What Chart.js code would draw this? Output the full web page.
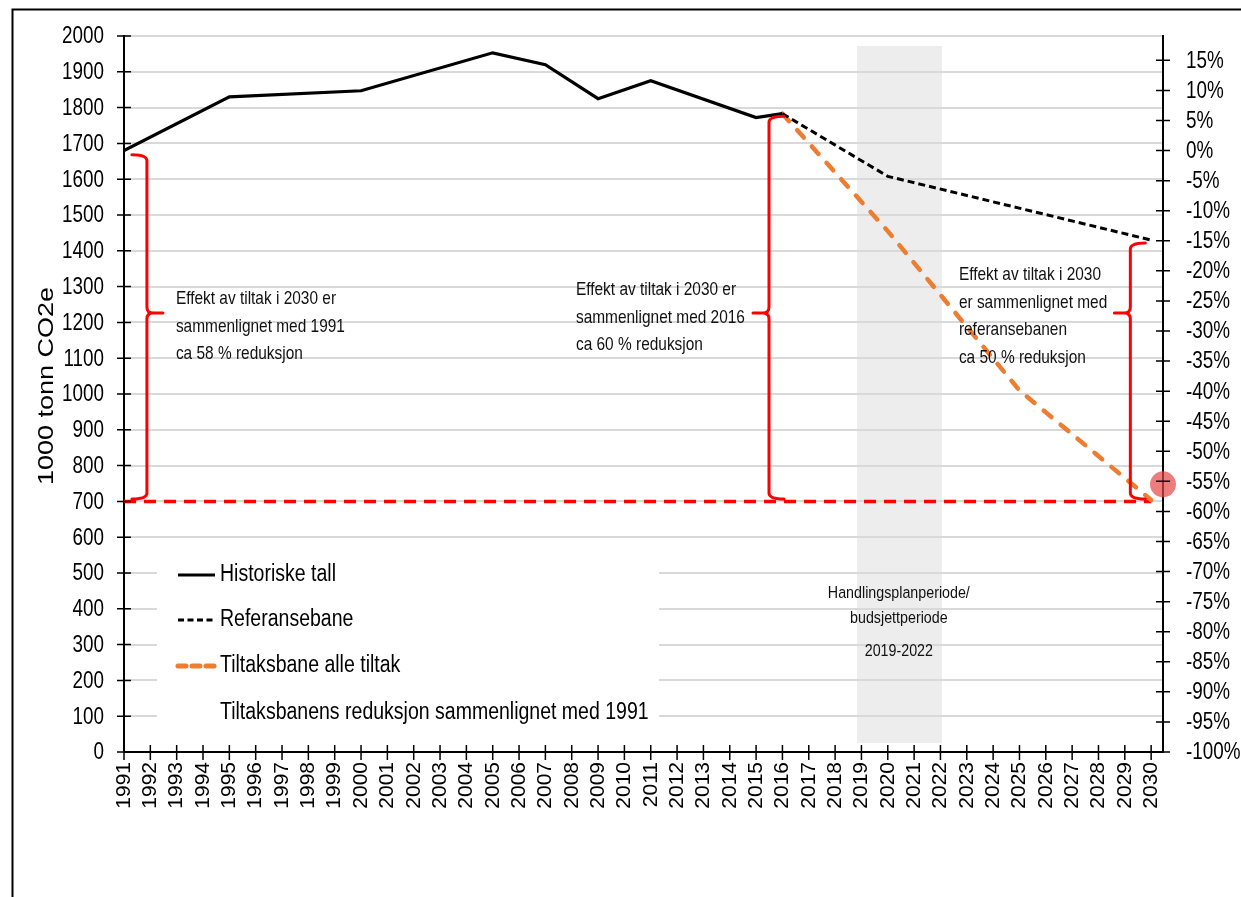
<!DOCTYPE html>
<html>
<head>
<meta charset="utf-8">
<script src="https://cdn.jsdelivr.net/npm/chart.js@4.4.0/dist/chart.umd.min.js"></script>
<style>
html,body{margin:0;padding:0;background:#fff;}
#wrap{width:1241px;height:897px;position:relative;}
</style>
</head>
<body>
<div id="wrap"><canvas id="c" width="1241" height="897"></canvas></div>
<script>
// ---------------- DATA ----------------
const histYears    = [1991, 1995, 2000, 2005, 2007, 2009, 2011, 2015, 2016];
const histValues   = [1680, 1830, 1847, 1953, 1920, 1825, 1875, 1772, 1783];
const refYears     = [2016, 2020, 2030];
const refValues    = [1783, 1608, 1430];
const tiltakYears  = [2016, 2020, 2025, 2030];
const tiltakValues = [1783, 1455, 1010, 704];
const targetYears  = [1991, 2030];
const targetValues = [700, 700];
const reductionYears = [2030.45];
const reductionPct   = [-55.5];
const base1991 = 1680;

const xTickYears = [1991,1992,1993,1994,1995,1996,1997,1998,1999,2000,2001,2002,2003,2004,2005,2006,2007,2008,2009,2010,
                    2011,2012,2013,2014,2015,2016,2017,2018,2019,2020,2021,2022,2023,2024,2025,2026,2027,2028,2029,2030];
const leftTicks  = [0,100,200,300,400,500,600,700,800,900,1000,1100,1200,1300,1400,1500,1600,1700,1800,1900,2000];
const rightTicks = [-100,-95,-90,-85,-80,-75,-70,-65,-60,-55,-50,-45,-40,-35,-30,-25,-20,-15,-10,-5,0,5,10,15];

const seriesLabels = ['Historiske tall', 'Referansebane', 'Tiltaksbane alle tiltak', 'Tiltaksbanens reduksjon sammenlignet med 1991'];
const yTitle = '1000 tonn CO2e';

const noteLines = [
  ['Effekt av tiltak i 2030 er', 'sammenlignet med 1991', 'ca 58 % reduksjon'],
  ['Effekt av tiltak i 2030 er', 'sammenlignet med 2016', 'ca 60 % reduksjon'],
  ['Effekt av tiltak i 2030', 'er sammenlignet med', 'referansebanen', 'ca 50 % reduksjon']
];
const noteYears  = [1992.97, 2008.16, 2022.70];
const noteValues = [1265, 1290, 1332];

const braceYears   = [1991.87, 2015.49, 2029.21];
const braceTops    = [1668, 1776, 1422];
const braceBottoms = [707, 707, 707];
const braceMids    = [1226, 1226, 1226];

const periodStart = 2018.83, periodEnd = 2022.06, periodTop = 1972, periodBottom = 25;
const periodLines = ['Handlingsplanperiode/', 'budsjettperiode', '2019-2022'];
const periodTextYear = 2020.42;
const periodTextValues = [444, 374, 282];

// ---------------- STYLE ----------------
const REG = '"Liberation Sans", Arial, sans-serif';
const SX = 0.82;           // horizontal squeeze of the narrow text
const ORANGE = '#ED7D31';
const RED = '#FF0000';

const pts = (xs, ys) => xs.map((x, i) => ({x: x, y: ys[i]}));

function narrowText(ctx, text, x, y, size, align, sx) {
  ctx.save();
  ctx.translate(x, y);
  ctx.scale(sx || SX, 1);
  ctx.font = size + 'px ' + REG;
  ctx.textAlign = align || 'left';
  ctx.textBaseline = 'middle';
  ctx.fillText(text, 0, 0);
  ctx.restore();
}

const decor = {
  id: 'decor',
  beforeDraw(chart) {
    const {ctx} = chart;
    const x = chart.scales.x, y = chart.scales.y;
    ctx.save();
    ctx.fillStyle = '#ffffff';
    ctx.fillRect(0, 0, chart.width, chart.height);
    const x0 = x.getPixelForValue(periodStart), x1 = x.getPixelForValue(periodEnd);
    const y0 = y.getPixelForValue(periodTop), y1 = y.getPixelForValue(periodBottom);
    ctx.fillStyle = '#EDEDED';
    ctx.fillRect(x0, y0, x1 - x0, y1 - y0);
    ctx.restore();
  },
  beforeDatasetsDraw(chart) {
    const {ctx, chartArea} = chart;
    const L = chartArea.left, B = chartArea.bottom;
    ctx.save();
    // legend box
    ctx.fillStyle = '#ffffff';
    ctx.fillRect(L + 33, B - 197, 502, 180);
    const ys = [B - 177, B - 132, B - 86, B - 39];
    const styles = [
      {c: '#000', w: 3, d: [], cap: 'butt'},
      {c: '#000', w: 3, d: [6, 3.5], cap: 'butt'},
      {c: ORANGE, w: 5, d: [8, 6], cap: 'round'},
      null
    ];
    for (let i = 0; i < 4; i++) {
      const s = styles[i];
      if (s) {
        ctx.beginPath();
        ctx.strokeStyle = s.c; ctx.lineWidth = s.w; ctx.setLineDash(s.d); ctx.lineCap = s.cap;
        ctx.moveTo(L + 54, ys[i]); ctx.lineTo(L + 91, ys[i]);
        ctx.stroke();
      }
      ctx.setLineDash([]);
      ctx.fillStyle = '#000';
      narrowText(ctx, seriesLabels[i], L + 96, ys[i], 23.5, 'left', 0.83);
    }
    // period text
    const x = chart.scales.x, y = chart.scales.y;
    ctx.fillStyle = '#111';
    periodLines.forEach((t, i) => narrowText(ctx, t, x.getPixelForValue(periodTextYear), y.getPixelForValue(periodTextValues[i]), 17.2, 'center', 0.83));
    ctx.restore();
  },
  afterDatasetsDraw(chart) {
    const {ctx} = chart;
    const x = chart.scales.x, y = chart.scales.y;
    ctx.save();
    // braces
    ctx.strokeStyle = RED; ctx.lineWidth = 3; ctx.setLineDash([]); ctx.lineCap = 'round'; ctx.lineJoin = 'round';
    const hookDirs = [-1, 1, 1], tipDirs = [1, -1, -1];
    for (let i = 0; i < braceYears.length; i++) {
      const xp = x.getPixelForValue(braceYears[i]);
      const yt = y.getPixelForValue(braceTops[i]), ym = y.getPixelForValue(braceMids[i]), yb = y.getPixelForValue(braceBottoms[i]);
      const h = hookDirs[i] * 15, t = tipDirs[i] * 16, r = 6;
      ctx.beginPath();
      ctx.moveTo(xp + h, yt);
      ctx.quadraticCurveTo(xp, yt, xp, yt + r);
      ctx.lineTo(xp, ym - r);
      ctx.quadraticCurveTo(xp, ym, xp + tipDirs[i] * r, ym);
      ctx.lineTo(xp + t, ym);
      ctx.moveTo(xp + tipDirs[i] * r, ym);
      ctx.quadraticCurveTo(xp, ym, xp, ym + r);
      ctx.lineTo(xp, yb - r);
      ctx.quadraticCurveTo(xp, yb, xp + h, yb);
      ctx.stroke();
    }
    // notes
    ctx.fillStyle = '#111';
    noteLines.forEach((lines, i) => {
      const px = x.getPixelForValue(noteYears[i]);
      const py = y.getPixelForValue(noteValues[i]);
      lines.forEach((t, j) => narrowText(ctx, t, px, py + j * 27.5, 18.6, 'left', 0.83));
    });
    ctx.restore();
  },
  afterDraw(chart) {
    const {ctx, chartArea} = chart;
    const y = chart.scales.y, y2 = chart.scales.y2, x = chart.scales.x;
    ctx.save();
    // crossing tick marks
    ctx.strokeStyle = '#000'; ctx.lineWidth = 1.5; ctx.setLineDash([]);
    ctx.beginPath();
    y.ticks.forEach(t => { const p = y.getPixelForValue(t.value); ctx.moveTo(chartArea.left - 7, p); ctx.lineTo(chartArea.left + 7, p); });
    y2.ticks.forEach(t => { const p = y2.getPixelForValue(t.value); ctx.moveTo(chartArea.right - 7, p); ctx.lineTo(chartArea.right + 7, p); });
    x.ticks.forEach(t => { const p = x.getPixelForValue(t.value); ctx.moveTo(p, chartArea.bottom - 7); ctx.lineTo(p, chartArea.bottom + 8); });
    ctx.stroke();
    // tick labels (narrow)
    ctx.fillStyle = '#000';
    y.ticks.forEach(t => narrowText(ctx, String(t.value), chartArea.left - 20, y.getPixelForValue(t.value) + 1, 23.3, 'right', 0.81));
    y2.ticks.forEach(t => narrowText(ctx, t.value + '%', chartArea.right + 23, y2.getPixelForValue(t.value) + 1, 23.3, 'left', 0.81));
    // axis title (rotated, squeezed across)
    ctx.save();
    ctx.translate(chartArea.left - 77, (chartArea.top + chartArea.bottom) / 2 - 8);
    ctx.rotate(-Math.PI / 2);
    ctx.scale(1, 0.8);
    ctx.font = '27px ' + REG;
    ctx.textAlign = 'center';
    ctx.textBaseline = 'middle';
    ctx.fillText(yTitle, 0, 0);
    ctx.restore();
    // outer frame
    ctx.lineWidth = 2;
    ctx.strokeRect(12.5, 9.5, 1400, 1000);
    ctx.restore();
  }
};

new Chart(document.getElementById('c'), {
  type: 'line',
  data: {
    datasets: [
      {label: seriesLabels[0], data: pts(histYears, histValues), borderColor: '#000', borderWidth: 3.2, pointRadius: 0, yAxisID: 'y', borderJoinStyle: 'miter'},
      {label: seriesLabels[1], data: pts(refYears, refValues), borderColor: '#000', borderWidth: 3, borderDash: [7, 4], pointRadius: 0, yAxisID: 'y'},
      {label: seriesLabels[2], data: pts(tiltakYears, tiltakValues), borderColor: ORANGE, borderWidth: 4.5, borderDash: [10, 12], borderCapStyle: 'round', pointRadius: 0, yAxisID: 'y'},
      {label: 'Mål 2030', data: pts(targetYears, targetValues), borderColor: RED, borderWidth: 3.5, borderDash: [12, 8], pointRadius: 0, yAxisID: 'y'},
      {label: seriesLabels[3], data: pts(reductionYears, reductionPct), showLine: false, pointRadius: 13, pointBackgroundColor: 'rgba(230,70,70,0.7)', pointBorderWidth: 0, yAxisID: 'y2', clip: false}
    ]
  },
  plugins: [decor],
  options: {
    responsive: false,
    animation: false,
    devicePixelRatio: 1,
    layout: {padding: {top: 36, left: 0, right: 0, bottom: 0}, autoPadding: false},
    plugins: {legend: {display: false}, tooltip: {enabled: false}},
    scales: {
      x: {
        type: 'linear', position: 'bottom', min: 1991, max: 2030.45,
        afterBuildTicks: s => { s.ticks = xTickYears.map(v => ({value: v})); },
        afterFit: s => { s.height = 145; },
        grid: {display: false, drawTicks: false},
        border: {display: true, color: '#000', width: 2},
        ticks: {autoSkip: false, minRotation: 90, maxRotation: 90, padding: 10, color: '#000',
                font: {family: REG, size: 21}, callback: v => String(v)}
      },
      y: {
        position: 'left', min: 0, max: 2000,
        afterBuildTicks: s => { s.ticks = leftTicks.map(v => ({value: v})); },
        afterFit: s => { s.width = 124; },
        grid: {color: '#D9D9D9', lineWidth: 2, drawTicks: false},
        border: {display: true, color: '#000', width: 2},
        ticks: {display: false},
        title: {display: false, text: yTitle}
      },
      y2: {
        position: 'right', min: -100, max: (2000 / base1991 - 1) * 100,
        afterBuildTicks: s => { s.ticks = rightTicks.map(v => ({value: v})); },
        afterFit: s => { s.width = 78; },
        grid: {display: false, drawTicks: false},
        border: {display: true, color: '#000', width: 2},
        ticks: {display: false}
      }
    }
  }
});
</script>
</body>
</html>
